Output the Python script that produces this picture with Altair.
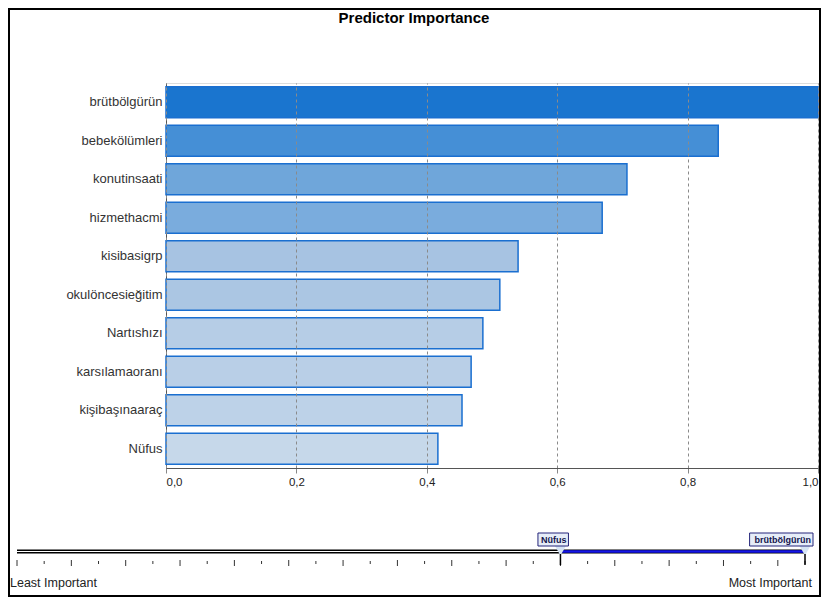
import altair as alt
import pandas as pd

# ---- data ----
predictors = ["brütbölgürün", "bebekölümleri", "konutinsaati", "hizmethacmi",
              "kisibasigrp", "okulöncesieğitim", "Nartıshızı", "karsılamaoranı",
              "kişibaşınaaraç", "Nüfus"]
importance = [1.0, 0.847, 0.707, 0.669, 0.540, 0.512, 0.486, 0.468, 0.454, 0.417]
bar_colors = ["#1a75cf", "#458fd6", "#6fa6da", "#7aacdd", "#a7c3e2",
              "#abc6e3", "#b6cde6", "#b9cfe7", "#bdd2e8", "#c6d8ea"]
x_ticks = [0.0, 0.2, 0.4, 0.6, 0.8, 1.0]

slider_ticks = list(range(30))
slider_low = 20
slider_high = 29
handle_labels = ["Nüfus", "brütbölgürün"]
handle_positions = [20, 29]

FONT = "Liberation Sans"

df = pd.DataFrame({"predictor": predictors, "importance": importance})
ticks_df = pd.DataFrame({"pos": slider_ticks})
track_df = pd.DataFrame({"start": [0], "low": [slider_low], "high": [slider_high]})
handles_df = pd.DataFrame({"label": handle_labels, "pos": handle_positions})
one = pd.DataFrame({"k": [0]})

sx = alt.Scale(domain=[0, 29], range=[-149, 639])

bars = alt.Chart(df).mark_bar(stroke="#1a6fd0", strokeWidth=1.5).encode(
    x=alt.X("importance:Q",
            scale=alt.Scale(domain=[0, 1], nice=False),
            axis=alt.Axis(values=x_ticks, title=None,
                          labelExpr="replace(format(datum.value,'.1f'),'.',',')",
                          grid=True, gridDash=[3, 3], gridColor="#8a8a8a",
                          tickColor="#888", tickSize=5, domainColor="#555",
                          labelFontSize=11.5, labelColor="#222", labelFont=FONT,
                          labelPadding=3, zindex=1)),
    y=alt.Y("predictor:N", sort=predictors,
            scale=alt.Scale(paddingInner=0.2, paddingOuter=0.1),
            axis=alt.Axis(title=None, ticks=False, labelPadding=4,
                          domainColor="#555", labelFontSize=13,
                          labelColor="#333", labelFont=FONT)),
    color=alt.Color("predictor:N",
                    scale=alt.Scale(domain=predictors, range=bar_colors),
                    legend=None),
)

# slider track: black double line then blue selected range
track_black = alt.Chart(track_df).mark_rule(color="#000", strokeWidth=4).encode(
    x=alt.X("start:Q", scale=sx, axis=None), x2="low:Q", y=alt.value(468.5))
track_white = alt.Chart(track_df).mark_rule(color="#fff", strokeWidth=1.2).encode(
    x=alt.X("start:Q", scale=sx, axis=None), x2="low:Q", y=alt.value(468.5))
sel_black = alt.Chart(track_df).mark_rule(color="#000", strokeWidth=4).encode(
    x=alt.X("low:Q", scale=sx, axis=None), x2="high:Q", y=alt.value(468.5))
sel_blue = alt.Chart(track_df).mark_rule(color="#1515e8", strokeWidth=2.4).encode(
    x=alt.X("low:Q", scale=sx, axis=None), x2="high:Q", y=alt.value(468.5))

long_ticks = alt.Chart(ticks_df).transform_filter("datum.pos % 2 == 0").mark_rule(
    color="#333", strokeWidth=1).encode(
    x=alt.X("pos:Q", scale=sx, axis=None), y=alt.value(477), y2=alt.value(483))
short_ticks = alt.Chart(ticks_df).transform_filter("datum.pos % 2 == 1").mark_rule(
    color="#333", strokeWidth=1).encode(
    x=alt.X("pos:Q", scale=sx, axis=None), y=alt.value(478), y2=alt.value(481))

# handles
pointer = alt.Chart(handles_df).mark_point(
    shape="triangle-down", filled=True, fill="#d6e4f4", size=160, opacity=1).encode(
    x=alt.X("pos:Q", scale=sx, axis=None), y=alt.value(467))
pointer_line = alt.Chart(handles_df).mark_rule(color="#000", strokeWidth=1.5).encode(
    x=alt.X("pos:Q", scale=sx, axis=None), y=alt.value(471), y2=alt.value(482))
boxes = alt.Chart(handles_df).transform_calculate(
    box_right="datum.pos + 8/27.17",
    box_left="datum.pos + 8/27.17 - (length(datum.label)*4.7 + 7)/27.17",
).mark_rect(fill="#e6edf8", stroke="#24247a", strokeWidth=1).encode(
    x=alt.X("box_left:Q", scale=sx, axis=None), x2="box_right:Q",
    y=alt.value(450), y2=alt.value(463))
box_text = alt.Chart(handles_df).mark_text(
    align="right", baseline="middle", dx=6, font=FONT, fontSize=9,
    fontWeight="bold", color="#14144e").encode(
    x=alt.X("pos:Q", scale=sx, axis=None), y=alt.value(457), text="label:N")

least = alt.Chart(one).mark_text(
    text="Least Important", align="left", baseline="middle", font=FONT,
    fontSize=12.5, color="#222").encode(x=alt.value(-156), y=alt.value(500))
most = alt.Chart(one).mark_text(
    text="Most Important", align="right", baseline="middle", font=FONT,
    fontSize=12.5, color="#222").encode(x=alt.value(646), y=alt.value(500))

title = alt.Chart(one).mark_text(
    text="Predictor Importance", align="center", baseline="middle", font=FONT,
    fontSize=15, fontWeight="bold", color="#000").encode(
    x=alt.value(248), y=alt.value(-65))

frame = alt.Chart(one).mark_rect(fill=None, filled=False, stroke="#000",
                                 strokeWidth=2).encode(
    x=alt.value(-157), x2=alt.value(654), y=alt.value(-74), y2=alt.value(513))

chart = alt.layer(
    bars, track_black, track_white, sel_black, sel_blue, long_ticks, short_ticks,
    pointer, pointer_line, boxes, box_text, least, most, title, frame
).resolve_scale(x="independent").properties(
    width=652, height=385,
    autosize=alt.AutoSizeParams(type="none"),
    padding={"left": 158, "top": 75, "right": 3, "bottom": 130},
).configure_view(stroke="#555", strokeWidth=1, fill="#ebebeb").configure(
    background="#ffffff")

chart.save("out.html", embed_options={"renderer": "svg", "actions": False})
